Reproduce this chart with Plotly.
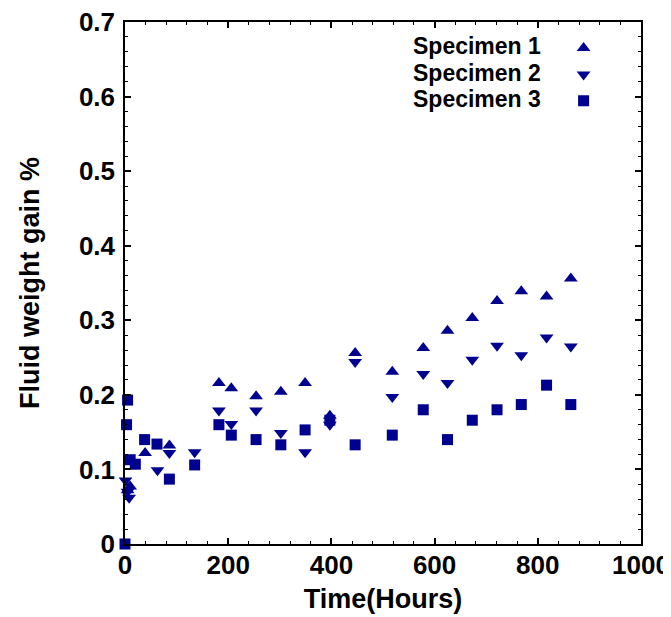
import plotly.graph_objects as go

# ---- data ----
hours_s1 = [5, 10, 39, 86, 182, 206, 254, 302, 349, 397, 446, 518, 578, 625, 673, 721, 768, 817, 864]
gain_s1 = [0.072, 0.077, 0.122, 0.132, 0.216, 0.209, 0.198, 0.204, 0.216, 0.172, 0.256, 0.231,
           0.263, 0.286, 0.303, 0.326, 0.339, 0.332, 0.356]

hours_s2 = [1, 5, 8, 63, 86, 135, 182, 206, 254, 302, 349, 397, 446, 518, 578, 625, 673, 721, 768, 817, 864]
gain_s2 = [0.085, 0.070, 0.062, 0.099, 0.122, 0.123, 0.179, 0.161, 0.179, 0.149, 0.123, 0.160,
           0.244, 0.197, 0.228, 0.216, 0.247, 0.266, 0.253, 0.277, 0.265]

hours_s3 = [0, 3, 5, 10, 20, 38, 62, 86, 135, 182, 206, 254, 302, 349, 397, 446, 518, 578, 625,
            673, 721, 768, 817, 864]
gain_s3 = [0.0, 0.160, 0.193, 0.113, 0.107, 0.140, 0.134, 0.087, 0.106, 0.160, 0.146, 0.140, 0.133,
           0.153, 0.166, 0.133, 0.146, 0.180, 0.140, 0.166, 0.180, 0.187, 0.213, 0.187]

series_names = ["Specimen 1", "Specimen 2", "Specimen 3"]
x_ticks = [0, 200, 400, 600, 800, 1000]
y_ticks = [0, 0.1, 0.2, 0.3, 0.4, 0.5, 0.6, 0.7]

NAVY = "#000090"
FONT = "Liberation Sans, Arial, sans-serif"

fig = go.Figure()
series = [
    (hours_s1, gain_s1, "triangle-up", 12),
    (hours_s2, gain_s2, "triangle-down", 12),
    (hours_s3, gain_s3, "square", 11),
]
for (xs, ys, sym, sz), nm in zip(series, series_names):
    fig.add_trace(go.Scatter(
        x=xs, y=ys, mode="markers", name="", hovertext=nm,
        marker=dict(symbol=sym, size=sz, color=NAVY, line=dict(width=0)),
        cliponaxis=False, showlegend=True,
    ))

# legend labels (text left of the symbols, as in the reference)
label_y = [0.9546, 0.9028, 0.853]
for nm, yy in zip(series_names, label_y):
    fig.add_annotation(
        x=0.81, y=yy, xref="paper", yref="paper", text=nm, showarrow=False,
        xanchor="right", yanchor="middle",
        font=dict(family=FONT, size=23, color="black", weight="bold"),
    )

axis_common = dict(
    showline=True, linecolor="black", linewidth=1.5, mirror="allticks",
    ticks="inside", ticklen=6, tickwidth=1.5, tickcolor="black",
    showgrid=False, zeroline=False, ticklabeloverflow="allow", automargin=False,
    tickfont=dict(family=FONT, size=26, color="black", weight="bold"),
)

fig.update_xaxes(
    range=[0, 1000], tickvals=x_ticks,
    minor=dict(dtick=40, ticks="inside", ticklen=3, tickwidth=1.2, tickcolor="black"),
    title=dict(text="Time(Hours)", font=dict(family=FONT, size=27, color="black", weight="bold"),
               standoff=10),
    ticklabelstandoff=-3,
    **axis_common,
)
fig.update_yaxes(
    range=[0, 0.7], tickvals=y_ticks,
    minor=dict(dtick=0.02, ticks="inside", ticklen=3, tickwidth=1.2, tickcolor="black"),
    title=dict(text="Fluid weight gain %", font=dict(family=FONT, size=27, color="black", weight="bold"),
               standoff=31),
    ticklabelstandoff=3,
    **axis_common,
)

fig.update_layout(
    width=671, height=617,
    margin=dict(l=117, r=38, t=14, b=81, autoexpand=False),
    paper_bgcolor="white", plot_bgcolor="white",
    legend=dict(
        x=0.85, y=0.985, xanchor="left", yanchor="top",
        bgcolor="rgba(0,0,0,0)", borderwidth=0,
        font=dict(family=FONT, size=18, color="black"),
        tracegroupgap=0,
    ),
)

fig.write_html("out.html")
